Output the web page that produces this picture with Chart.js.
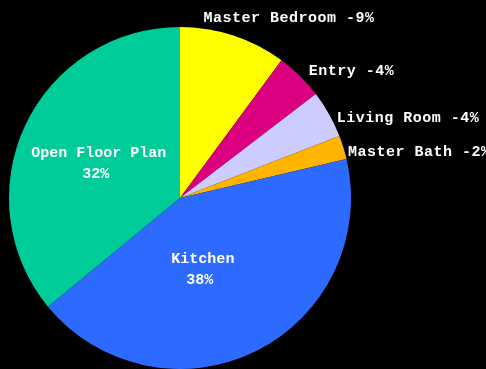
<!DOCTYPE html>
<html>
<head>
<meta charset="utf-8">
<script src="https://cdn.jsdelivr.net/npm/chart.js@4.4.0/dist/chart.umd.min.js"></script>
<style>
  html, body { margin: 0; padding: 0; background: #000; }
  #wrap { width: 486px; height: 369px; position: relative; }
</style>
</head>
<body>
<div id="wrap"><canvas id="pie"></canvas></div>
<script>
// rooms, clockwise from 12 o'clock
const rooms = ['Master Bedroom', 'Entry', 'Living Room', 'Master Bath', 'Kitchen', 'Open Floor Plan'];
const shares = [9, 4, 4, 2, 38, 32];
const colors = ['#ffff00', '#dc0080', '#ccccff', '#ffb400', '#2d6aff', '#00cc99'];

const FONT = 'bold 15px "Liberation Mono", "Courier New", monospace';
// small nudges so labels sit where the original put them
const nudge = [[-33, -8], [2, 2], [-1, 9], [-5, 8], [-15, -5], [-4, 2]];

// labels: small slices outside, big slices inside
const sliceLabels = {
  id: 'sliceLabels',
  afterDatasetsDraw(chart) {
    const ctx = chart.ctx;
    const arcs = chart.getDatasetMeta(0).data;
    ctx.save();
    ctx.font = FONT;
    ctx.fillStyle = '#fff';
    ctx.textBaseline = 'middle';
    arcs.forEach(function (arc, i) {
      const p = arc.getProps(['x', 'y', 'startAngle', 'endAngle', 'outerRadius'], true);
      const mid = (p.startAngle + p.endAngle) / 2;
      const n = nudge[i];
      if (shares[i] >= 10) {
        const r = p.outerRadius * 0.5;
        const x = p.x + Math.cos(mid) * r + n[0];
        const y = p.y + Math.sin(mid) * r + n[1];
        ctx.textAlign = 'center';
        ctx.letterSpacing = '0px';
        ctx.fillText(rooms[i], x, y - 10);
        ctx.fillText(shares[i] + '%', x - 3, y + 11);
      } else {
        const r = p.outerRadius + 10;
        const x = p.x + Math.cos(mid) * r + n[0];
        const y = p.y + Math.sin(mid) * r + n[1];
        ctx.textAlign = 'left';
        ctx.letterSpacing = '0.5px';
        ctx.fillText(rooms[i] + ' -' + shares[i] + '%', x, y);
      }
    });
    ctx.restore();
  }
};

new Chart(document.getElementById('pie'), {
  type: 'pie',
  data: {
    labels: rooms,
    datasets: [{
      data: shares,
      backgroundColor: colors,
      borderWidth: 0
    }]
  },
  options: {
    responsive: true,
    maintainAspectRatio: false,
    animation: false,
    layout: { padding: { left: 8, right: 134, top: 27, bottom: -2 } },
    plugins: {
      legend: { display: false },
      tooltip: { enabled: false }
    }
  },
  plugins: [sliceLabels]
});
</script>
</body>
</html>
